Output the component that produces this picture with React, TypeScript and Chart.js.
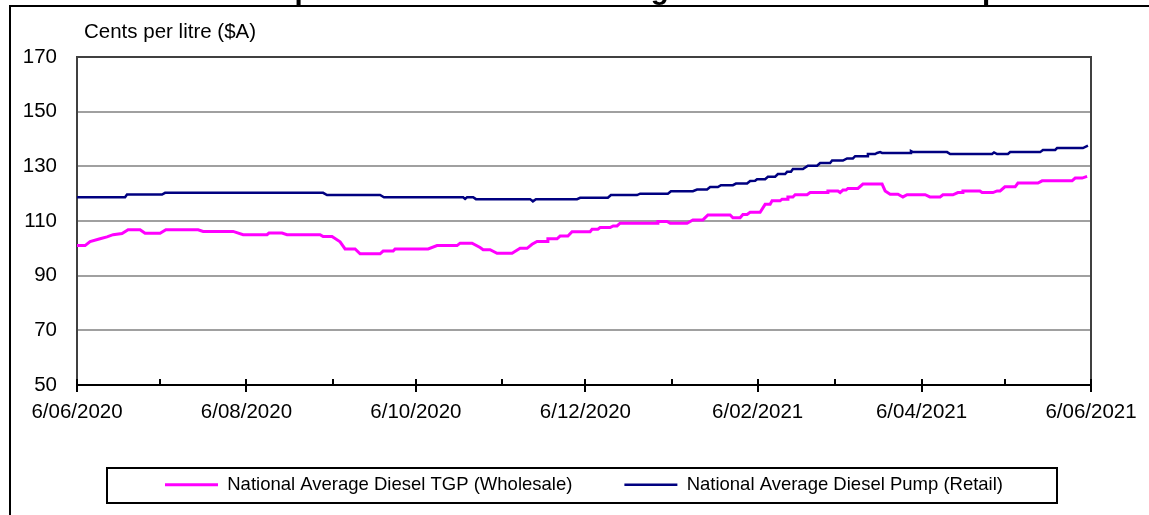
import React, { useEffect, useRef } from "react";
import { Chart, registerables } from "chart.js";

Chart.register(...registerables);

const FONT = '"Liberation Sans", Arial, Helvetica, sans-serif';

const titleText = "Comparison of National Average Diesel TGP and Pump Prices";
const yAxisLabel = "Cents per litre ($A)";

// days after 6/06/2020
const xTickDays = [0, 61, 122, 183, 245, 304, 365];
const xTickLabels = ["6/06/2020", "6/08/2020", "6/10/2020", "6/12/2020", "6/02/2021", "6/04/2021", "6/06/2021"];
const xMinorDays = [30, 92, 153, 214, 273, 334];

const yMin = 50;
const yMax = 170;
const yStep = 20;

const tgpLabel = "National Average Diesel TGP (Wholesale)";
const pumpLabel = "National Average Diesel Pump (Retail)";

const tgpDays = [
  0, 2.9, 4.7, 8.3, 10.8, 13, 16.2, 18.4, 22.7, 24.5, 29.9, 32, 43.6, 45.4, 56.2, 59.8, 68.4, 69.1, 73.8, 75.6,
  87.5, 88.6, 91.8, 94.7, 96.5, 100.1, 101.9, 109.1, 110.2, 113.8, 114.5, 126.4, 129.6, 136.8, 137.9, 142.2,
  145.1, 146.2, 148.7, 151.2, 156.6, 159.5, 162, 163.8, 165.6, 169.2, 169.5, 172.8, 173.9, 176.7, 178.2, 184.7,
  185.4, 187.5, 188.3, 191.9, 193, 194.4, 195.5, 208.8, 209.1, 212.4, 213.5, 219.6, 221.7, 225.3, 227.1, 235.1,
  236.1, 238.7, 239.7, 241.2, 242.3, 245.9, 247.7, 249.5, 250.2, 253.1, 253.8, 255.6, 255.9, 257.7, 258.5, 262.8,
  263.9, 270, 270.3, 273.9, 274.7, 275.7, 276.8, 277.5, 281.1, 282.9, 289.8, 290.9, 292.7, 295.5, 297.3, 298.8,
  305.3, 307, 310.7, 311.7, 315.3, 317.1, 318.6, 318.9, 325, 325.8, 329.7, 331.2, 332.3, 334, 337.7, 338.7,
  345.9, 347.4, 358.2, 359.3, 361.8, 363.6,
];
const tgpValues = [
  101, 101, 102.5, 103.5, 104.2, 105, 105.4, 106.8, 106.8, 105.5, 105.5, 106.8, 106.8, 106.2, 106.2, 105, 105, 105.6, 105.6, 105,
  105, 104.3, 104.3, 102.4, 99.8, 99.8, 98, 98, 99, 99, 99.8, 99.8, 101, 101, 101.9, 101.9,
  100.3, 99.5, 99.5, 98.2, 98.2, 100, 100, 101.5, 102.5, 102.5, 103.5, 103.5, 104.5, 104.5, 106.1, 106.1,
  107, 107, 107.6, 107.6, 108.2, 108.2, 109.2, 109.2, 109.8, 109.8, 109.2, 109.2, 110.4, 110.4, 112.2, 112.2,
  111.2, 111.2, 112.4, 112.4, 113.2, 113.2, 116.1, 116.1, 117.4, 117.4, 118, 118, 118.8, 118.8, 119.6, 119.6,
  120.4, 120.4, 121, 121, 120.4, 121.3, 121.3, 121.9, 121.9, 123.5, 123.5, 121, 119.8, 119.8, 118.8, 119.6,
  119.6, 118.8, 118.8, 119.6, 119.6, 120.4, 120.4, 121, 121, 120.4, 120.4, 121, 121, 122.5, 122.5, 123.9,
  123.9, 124.7, 124.7, 125.7, 125.7, 126.3,
];

const pumpDays = [
  0, 17.3, 18, 30.6, 31.7, 88.6, 90, 109.1, 110.5, 139, 139.7, 140.4, 142.6, 143.6, 163.1, 164.1, 165.2, 180,
  181.1, 191.1, 192.2, 201.6, 202.7, 212.7, 213.8, 221.7, 223.2, 226.8, 227.9, 230.7, 231.8, 236.1, 237.2, 241.2,
  242.3, 244.1, 244.8, 247.7, 248.7, 251.3, 252.3, 254.9, 255.6, 257, 257.7, 261.3, 263.1, 266.4, 267.5, 271.1,
  271.8, 275.7, 277.2, 279.3, 280.1, 284.4, 284.7, 287.3, 288, 289.1, 289.8, 299.9, 300.2, 300.9, 313.2, 314.3,
  329.4, 330.1, 331.2, 335.1, 335.9, 346.7, 347.7, 352.1, 352.8, 362.1, 363.9,
];
const pumpValues = [
  118.7, 118.7, 119.7, 119.7, 120.3, 120.3, 119.5, 119.5, 118.7, 118.7, 118.1, 118.7, 118.7, 118, 118, 117.2, 118, 118,
  118.5, 118.5, 119.5, 119.5, 120, 120, 120.9, 120.9, 121.5, 121.5, 122.4, 122.4, 123.1, 123.1, 123.7, 123.7,
  124.6, 124.7, 125.3, 125.3, 126.2, 126.2, 127.2, 127.2, 128, 128, 129, 129, 130.2, 130.2, 131.2, 131.2,
  132.1, 132.1, 132.9, 132.9, 133.7, 133.7, 134.5, 134.5, 134.9, 135.2, 134.9, 134.9, 135.6, 135.2, 135.2, 134.5,
  134.5, 135.1, 134.5, 134.5, 135.2, 135.2, 136, 136, 136.7, 136.7, 137.6,
];

const toPoints = (days: number[], vals: number[]) => days.map((d, i) => ({ x: d, y: vals[i] }));

const decorPlugin = {
  id: "decor",
  afterDraw(chart: any) {
    const ctx = chart.ctx;
    const { left, right, top, bottom } = chart.chartArea;
    const xs = chart.scales.x;
    ctx.save();

    // title (mostly cut off above the picture)
    ctx.font = `bold 29.5px ${FONT}`;
    ctx.fillStyle = "#000";
    ctx.textAlign = "left";
    ctx.textBaseline = "alphabetic";
    ctx.fillText(titleText, 229, -1.5);

    // outer frame
    ctx.strokeStyle = "#000";
    ctx.lineWidth = 2;
    ctx.beginPath();
    ctx.moveTo(10, 520);
    ctx.lineTo(10, 6);
    ctx.lineTo(1160, 6);
    ctx.stroke();

    // plot area border (top, right)
    ctx.strokeStyle = "#404040";
    ctx.lineWidth = 2;
    ctx.beginPath();
    ctx.moveTo(left, Math.round(top));
    ctx.lineTo(Math.round(right), Math.round(top));
    ctx.lineTo(Math.round(right), bottom);
    ctx.stroke();

    // x axis tick marks
    ctx.strokeStyle = "#000";
    ctx.lineWidth = 2;
    ctx.beginPath();
    xTickDays.forEach((d) => {
      const px = Math.round(xs.getPixelForValue(d));
      ctx.moveTo(px, bottom - 6);
      ctx.lineTo(px, bottom + 7);
    });
    xMinorDays.forEach((d) => {
      const px = Math.round(xs.getPixelForValue(d));
      ctx.moveTo(px, bottom - 6);
      ctx.lineTo(px, bottom);
    });
    ctx.stroke();

    // y-axis unit label
    ctx.font = `20.5px ${FONT}`;
    ctx.fillStyle = "#000";
    ctx.textBaseline = "middle";
    ctx.fillText(yAxisLabel, 84, 32);

    // legend frame
    ctx.strokeStyle = "#000";
    ctx.lineWidth = 2;
    ctx.strokeRect(107, 468, 950, 35);
    ctx.restore();
  },
};

function ChartView() {
  const ref = useRef<HTMLCanvasElement | null>(null);
  useEffect(() => {
    if (!ref.current) return;
    const chart = new Chart(ref.current, {
      type: "line",
      data: {
        datasets: [
          {
            label: tgpLabel,
            data: toPoints(tgpDays, tgpValues),
            borderColor: "#FF00FF",
            backgroundColor: "#FF00FF",
            borderWidth: 3,
            pointRadius: 0,
            tension: 0,
            fill: false,
          },
          {
            label: pumpLabel,
            data: toPoints(pumpDays, pumpValues),
            borderColor: "#000080",
            backgroundColor: "#000080",
            borderWidth: 2.5,
            pointRadius: 0,
            tension: 0,
            fill: false,
          },
        ],
      },
      options: {
        responsive: false,
        animation: false,
        devicePixelRatio: 1,
        layout: { padding: { top: 57, left: 0, right: 58, bottom: 11 } },
        plugins: {
          title: { display: false },
          tooltip: { enabled: false },
          legend: {
            position: "bottom",
            fullSize: false,
            align: "center",
            labels: {
              usePointStyle: true,
              pointStyle: "line",
              pointStyleWidth: 53,
              padding: 52,
              color: "#000",
              font: { size: 18.5, family: FONT },
            },
          },
        },
        scales: {
          x: {
            type: "linear",
            min: 0,
            max: 365,
            afterBuildTicks: (scale: any) => {
              scale.ticks = xTickDays.map((v) => ({ value: v }));
            },
            afterFit: (scale: any) => {
              scale.height = 38.5;
            },
            grid: {
              display: true,
              drawOnChartArea: false,
              drawTicks: true,
              tickLength: 15,
              tickColor: "rgba(0,0,0,0)",
            },
            border: { display: true, color: "#000", width: 2 },
            ticks: {
              autoSkip: false,
              maxRotation: 0,
              padding: 0,
              color: "#000",
              font: { size: 20.5, family: FONT },
              callback: (_v: any, i: number) => xTickLabels[i],
            },
          },
          y: {
            min: yMin,
            max: yMax,
            afterFit: (scale: any) => {
              scale.width = 77;
            },
            grid: { color: "#a0a0a0", lineWidth: 2, drawTicks: false },
            border: { display: true, color: "#404040", width: 2 },
            ticks: {
              stepSize: yStep,
              padding: 20,
              color: "#000",
              font: { size: 20.5, family: FONT },
            },
          },
        },
      },
      plugins: [decorPlugin],
    } as any);
    return () => chart.destroy();
  }, []);
  return <canvas ref={ref} width={1149} height={515} style={{ display: "block" }} />;
}

export default function App() {
  return (
    <div style={{ position: "absolute", left: 0, top: 0, width: 1149, height: 515, background: "#fff", overflow: "hidden" }}>
      <ChartView />
    </div>
  );
}
